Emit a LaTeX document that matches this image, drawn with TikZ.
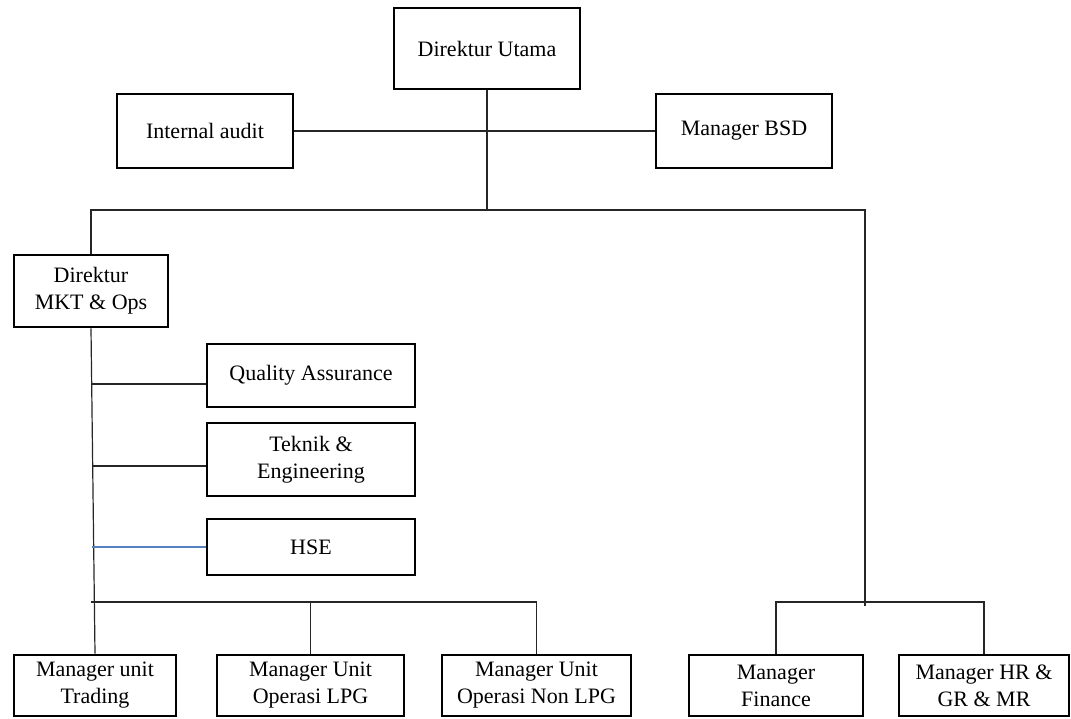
\documentclass[tikz,border=0pt]{standalone}
\usepackage{fontspec}
\setmainfont{Liberation Serif}
\definecolor{garisbiru}{RGB}{84,130,190}
\begin{document}
\begin{tikzpicture}
	[
	x=1pt, y=-1pt, font=\fontsize{22}{27}\selectfont,
	%Voreinstellung Kotak jabatan
	jabatan/.style={draw, line width=2.8pt, align=center, inner sep=0pt},
	garis/.style={line width=1.2pt, black!85}
	]
	
	\useasboundingbox (0,0) rectangle (1071,718);
	
	%Direktur Utama
	\node[jabatan, minimum width=186pt, minimum height=81pt] (du) at (487,48.5) {Direktur Utama};
	
	%Staf
	\node[jabatan, minimum width=176pt, minimum height=74pt] (ia) at (205,131) {Internal audit};
	\node[jabatan, minimum width=176pt, minimum height=74pt] (bsd) at (744,131) {Manager BSD};
	
	%Direktur MKT
	\node[jabatan, minimum width=154pt, minimum height=72pt] (dmkt) at (91,291) {Direktur\\MKT \& Ops};
	
	%Bagian di bawah Direktur MKT
	\node[jabatan, minimum width=208pt, minimum height=63pt] (qa) at (311,375.5) {Quality Assurance};
	\node[jabatan, minimum width=208pt, minimum height=73pt] (tek) at (311,459.5) {Teknik \&\\Engineering};
	\node[jabatan, minimum width=208pt, minimum height=56pt] (hse) at (311,547) {HSE};
	
	%Manager
	\node[jabatan, minimum width=162pt, minimum height=61pt] (trd) at (95,685.5) {Manager unit\\Trading};
	\node[jabatan, minimum width=187pt, minimum height=61pt] (lpg) at (310.5,685.5) {Manager Unit\\Operasi LPG};
	\node[jabatan, minimum width=189pt, minimum height=61pt] (nlpg) at (536.5,685.5) {Manager Unit\\Operasi Non LPG};
	\node[jabatan, minimum width=174pt, minimum height=61pt] (fin) at (776,685.5) {Manager\\Finance};
	\node[jabatan, minimum width=170pt, minimum height=61pt] (hr) at (984,685.5) {Manager HR \&\\GR \& MR};
	
	%Titik cabang
	\coordinate (cabang) at (487,210);
	\coordinate (kanan) at (865,606);
	\coordinate (keu) at (865,602);
	\coordinate (bawah) at (91,602);
	\coordinate (qa-l) at (92,384);
	\coordinate (tek-l) at (92,466);
	\coordinate (hse-l) at (92,547);
	
	%Garis atas
	\draw[garis] (du.south) -- (cabang);
	\draw[garis] (ia.east) -- (bsd.west);
	\draw[garis] (dmkt.north) |- (cabang) -| (kanan);
	
	%Garis Direktur MKT
	\draw[garis] (dmkt.south) -- (trd.north);
	\draw[garis] (qa-l) -- (qa-l -| qa.west);
	\draw[garis] (tek-l) -- (tek-l -| tek.west);
	\draw[garis, garisbiru] (hse-l) -- (hse.west);
	\draw[garis] (bawah) -| (nlpg.north);
	\draw[garis] (lpg.north) -- (lpg.north |- bawah);
	
	%Garis Finance dan HR
	\draw[garis] (fin.north) |- (keu) -| (hr.north);
\end{tikzpicture}
\end{document}
